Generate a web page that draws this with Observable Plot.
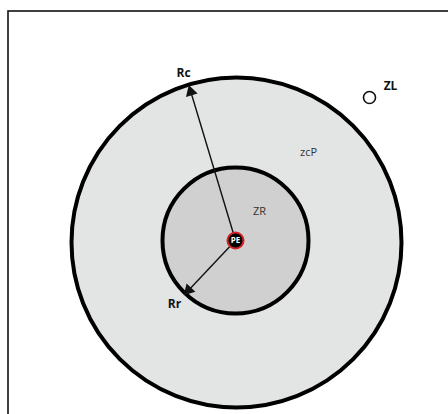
<!DOCTYPE html>
<html>
<head>
<meta charset="utf-8">
<script src="https://cdn.jsdelivr.net/npm/d3@7"></script>
<script src="https://cdn.jsdelivr.net/npm/@observablehq/plot@0.6"></script>
<style>
  html, body { margin: 0; padding: 0; background: #fff; overflow: hidden; }
  #chart svg { display: block; overflow: hidden !important; }
</style>
</head>
<body>
<div id="chart"></div>
<script>
// Coordinates: PE at origin, units ≈ pixels, y pointing up
const zoneNames = ["zcP", "ZR"];
const zoneCx = [1, 0];
const zoneCy = [-2, 0];
const zoneRadius = [165, 73];
const zoneFill = ["#e3e4e4", "#d0d0d0"];

const arrowNames = ["Rc", "Rr"];
const arrowTipX = [-46, -50];
const arrowTipY = [153, -53];

const labelText = ["Rc", "Rr", "ZL", "zcP", "ZR"];
const labelX = [-52, -61, 155, 73, 24];
const labelY = [167, -64, 154, 88, 29];
const labelBold = [true, true, true, false, false];

const zlX = [134];
const zlY = [143];
const zlR = [6];

const peX = [0], peY = [0], peR = [8];

const frameX1 = [-227], frameX2 = [225], frameY1 = [-186], frameY2 = [229];

const zones = zoneNames.map((n, i) => ({name: n, x: zoneCx[i], y: zoneCy[i], r: zoneRadius[i], fill: zoneFill[i]}));
const arrows = arrowNames.map((n, i) => {
  const x2 = arrowTipX[i], y2 = arrowTipY[i];
  const len = Math.hypot(x2, y2);
  const back = 4.5;
  return {
    name: n, x1: 0, y1: 0, x2, y2,
    hx: x2 - x2 / len * back, hy: y2 - y2 / len * back,
    angle: Math.atan2(x2, y2) * 180 / Math.PI
  };
});
const labels = labelText.map((t, i) => ({text: t, x: labelX[i], y: labelY[i], bold: labelBold[i]}));

const chart = Plot.plot({
  width: 448,
  height: 414,
  margin: 0,
  style: {background: "#fff", overflow: "hidden", fontFamily: "'Open Sans', 'Liberation Sans', sans-serif"},
  x: {domain: [-235, 213], range: [0, 448], axis: null},
  y: {domain: [-174, 240], range: [414, 0], axis: null},
  r: {type: "linear", domain: [0, 200], range: [0, 200]},
  marks: [
    Plot.rect({length: 1}, {x1: frameX1, x2: frameX2, y1: frameY1, y2: frameY2, fill: "none", stroke: "#111", strokeWidth: 1.6}),
    Plot.dot(zones, {x: "x", y: "y", r: "r", fill: d => d.fill, stroke: "#000", strokeWidth: 4}),
    Plot.link(arrows, {x1: "x1", y1: "y1", x2: "hx", y2: "hy", stroke: "#111", strokeWidth: 1.4}),
    Plot.dot(arrows, {x: "hx", y: "hy", symbol: "triangle", r: 4.5, rotate: "angle", fill: "#111", stroke: "none"}),
    Plot.dot(zlX.map((x, i) => ({x, y: zlY[i], r: zlR[i]})), {x: "x", y: "y", r: "r", fill: "#fff", stroke: "#111", strokeWidth: 1.6}),
    Plot.dot(peX.map((x, i) => ({x, y: peY[i], r: peR[i]})), {x: "x", y: "y", r: "r", fill: "#000", stroke: "#d42020", strokeWidth: 2}),
    Plot.text(peX.map((x, i) => ({x, y: peY[i]})), {x: "x", y: "y", text: () => "PE", fill: "#fff", fontSize: 8, fontWeight: "bold"}),
    Plot.text(labels.filter(d => d.bold), {x: "x", y: "y", text: "text", fontSize: 12, fontWeight: "bold", fill: "#111"}),
    Plot.text(labels.filter(d => !d.bold), {x: "x", y: "y", text: "text", fontSize: 11, fill: "#333"})
  ]
});
document.getElementById("chart").appendChild(chart);
</script>
</body>
</html>
